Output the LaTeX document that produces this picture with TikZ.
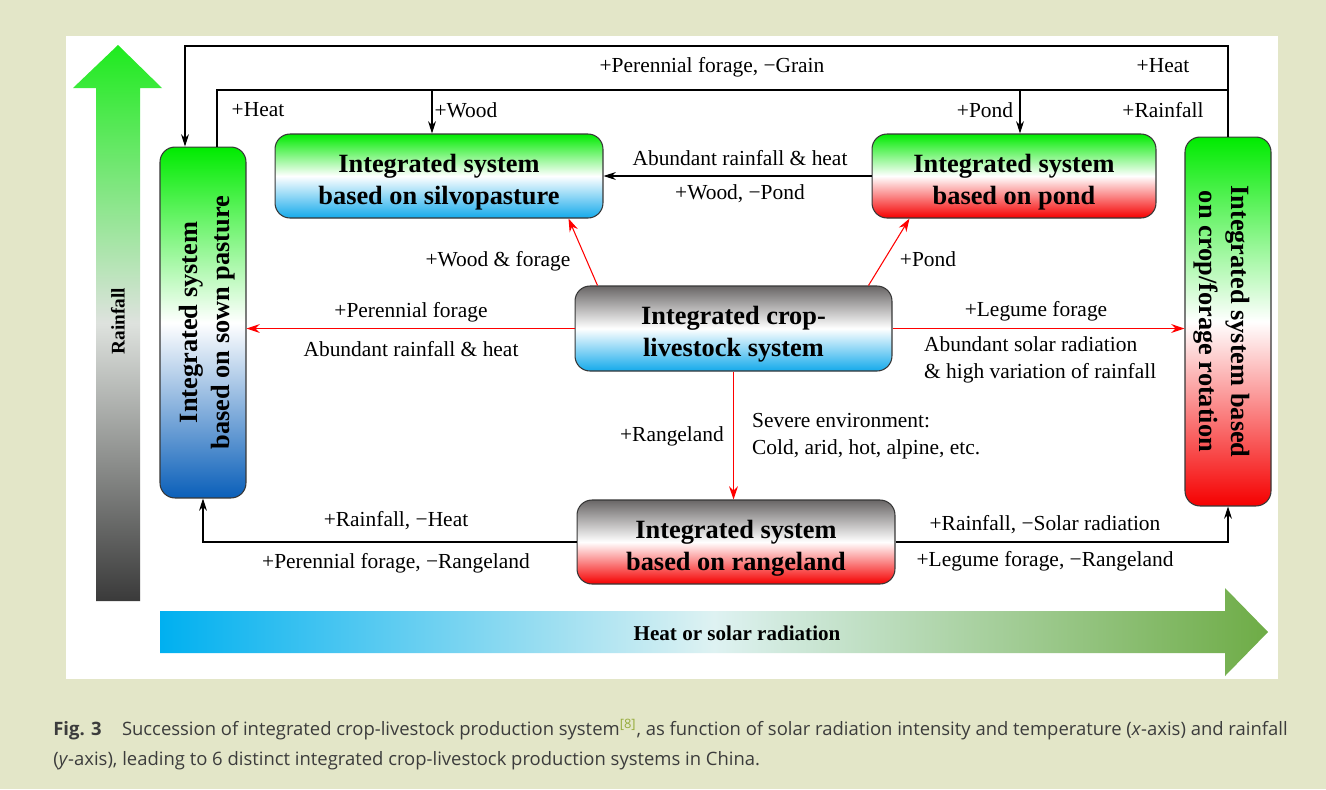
\documentclass[tikz,border=0pt]{standalone}
\usepackage{fontspec}
\setmainfont{Liberation Serif}
\newfontfamily\capfont{Open Sans}
\usepackage{graphicx}
\usepackage{xcolor}
\usetikzlibrary{arrows, arrows.meta}
\usetikzlibrary{calc}

\definecolor{bgpanel}{RGB}{227,230,200}
\definecolor{boxgreen}{RGB}{0,235,0}
\definecolor{boxcyan}{RGB}{20,170,235}
\definecolor{boxblue}{RGB}{10,95,185}
\definecolor{boxred}{RGB}{245,0,0}
\definecolor{boxgray}{RGB}{105,102,102}
\definecolor{boxline}{RGB}{55,55,55}
\definecolor{rainfallgreen}{RGB}{30,235,30}
\definecolor{rainfallmid}{RGB}{222,226,222}
\definecolor{rainfallgray}{RGB}{58,58,58}
\definecolor{heatcyan}{RGB}{0,176,240}
\definecolor{heatmid}{RGB}{222,242,242}
\definecolor{heatgreen}{RGB}{110,172,70}
\definecolor{captext}{RGB}{60,60,60}
\definecolor{refgreen}{RGB}{150,172,60}

\tikzset{
  sysbox/.style={draw=boxline, line width=0.6pt, rounded corners=0.3cm, inner sep=0pt, align=center,
    font=\fontsize{15}{18.2}\selectfont\bfseries},
  lbl/.style={inner sep=1pt, font=\fontsize{12.2}{15.4}\selectfont},
  blkarrow/.style={-{Stealth[length=7pt, width=4.5pt]}, line width=0.6pt},
  redarrow/.style={-{Stealth[length=7.5pt, width=5pt]}, red, line width=0.6pt},
}

\begin{document}
\begin{tikzpicture}[x=0.02cm, y=-0.02cm]
      \useasboundingbox (0,0) rectangle (1326,789);
      \fill[bgpanel] (0,0) rectangle (1326,789);
      \fill[white] (66,36) rectangle (1278,679);

      % axes
      \shade[top color=rainfallgreen, bottom color=rainfallgray, middle color=rainfallmid]
        (96,601) -- (96,88) -- (73,88) -- (118,45) -- (162,88) -- (140,88) -- (140,601) -- cycle;
      \node[rotate=90, font=\fontsize{11}{12}\selectfont\bfseries] (rainfall) at (118,321) {Rainfall};
      \shade[left color=heatcyan, right color=heatgreen, middle color=heatmid]
        (160,611) -- (1225,611) -- (1225,588) -- (1268,632) -- (1225,676) -- (1225,653) -- (160,653) -- cycle;
      \node[font=\fontsize{12}{13}\selectfont\bfseries] (heat) at (737,633) {Heat or solar radiation};

      % systems
      \node[sysbox, minimum width=6.56cm, minimum height=1.68cm, top color=boxgreen, bottom color=boxcyan, middle color=white] (silvo) at (439,176) {\rule{0pt}{1.15em}Integrated system\\based on silvopasture};
      \node[sysbox, minimum width=5.68cm, minimum height=1.68cm, top color=boxgreen, bottom color=boxred, middle color=white] (pond) at (1014,176) {\rule{0pt}{1.15em}Integrated system\\based on pond};
      \node[sysbox, minimum width=6.34cm, minimum height=1.70cm, top color=boxgray, bottom color=boxcyan, middle color=white] (crop) at (733.5,328.5) {\rule{0pt}{1.15em}Integrated crop-\\livestock system};
      \node[sysbox, minimum width=6.36cm, minimum height=1.68cm, top color=boxgray, bottom color=boxred, middle color=white] (range) at (736,542) {\rule{0pt}{1.15em}Integrated system\\based on rangeland};
      \node[sysbox, minimum width=1.72cm, minimum height=7.02cm, top color=boxgreen, bottom color=boxblue, middle color=white] (sown) at (203,322.5)
        {\hspace*{0.16cm}\rotatebox{90}{\begin{tabular}{@{}c@{}}Integrated system\\based on sown pasture\end{tabular}}};
      \node[sysbox, minimum width=1.72cm, minimum height=7.38cm, top color=boxgreen, bottom color=boxred, middle color=white] (rot) at (1228,321.5)
        {\rotatebox{-90}{\begin{tabular}{@{}c@{}}Integrated system based\\on crop/forage rotation\end{tabular}}\hspace*{0.24cm}};

      \coordinate (outerL) at (185,46);
      \coordinate (innerL) at (217,90);
      \coordinate (woodx) at (432,90);
      \coordinate (pondx) at (1020,90);

      % black connectors
      \draw[blkarrow] (rot.north) |- (outerL) -- (outerL |- sown.north);
      \draw[line width=0.6pt] (innerL |- sown.north) -- (innerL) -- (innerL -| rot.north);
      \draw[blkarrow] (woodx) -- (woodx |- silvo.north);
      \draw[blkarrow] (pondx) -- (pondx |- pond.north);
      \draw[blkarrow] (pond.west) -- (silvo.east);
      \draw[blkarrow] (range.west) -| (sown.south);
      \draw[blkarrow] (range.east) -| (rot.south);

      % red connectors
      \draw[redarrow] ([xshift=0.46cm]crop.north west) -- ([xshift=-0.7cm]silvo.south east);
      \draw[redarrow] ([xshift=-0.48cm]crop.north east) -- ([xshift=0.76cm]pond.south west);
      \draw[redarrow] (crop.west) -- (crop.west -| sown.east);
      \draw[redarrow] (crop.east) -- (crop.east -| rot.west);
      \draw[redarrow] (crop.south) -- (crop.south |- range.north);

      % labels
      \node[lbl] (lForageGrain) at (712,67) {+Perennial forage, −Grain};
      \node[lbl] (lHeatTop) at (1163,66) {+Heat};
      \node[lbl] (lHeatLeft) at (258,110) {+Heat};
      \node[lbl] (lWood) at (466,110) {+Wood};
      \node[lbl] (lPondTop) at (985,110) {+Pond};
      \node[lbl] (lRainTop) at (1163,110) {+Rainfall};
      \node[lbl] (lRainHeat) at (740,158) {Abundant rainfall \& heat};
      \node[lbl] (lWoodPond) at (740,194) {+Wood, −Pond};
      \node[lbl] (lWoodForage) at (498,261) {+Wood \& forage};
      \node[lbl] (lPond) at (928,259) {+Pond};
      \node[lbl] (lPerennial) at (411,312) {+Perennial forage};
      \node[lbl] (lRainHeatL) at (411,349) {Abundant rainfall \& heat};
      \node[lbl] (lLegume) at (1036,311) {+Legume forage};
      \node[lbl, anchor=west, align=left] (lSolar) at (922,360) {Abundant solar radiation\\\& high variation of rainfall};
      \node[lbl] (lRangeland) at (672,436) {+Rangeland};
      \node[lbl, anchor=west, align=left] (lSevere) at (750,436) {Severe environment:\\Cold, arid, hot, alpine, etc.};
      \node[lbl] (lRainMinusHeat) at (396,521) {+Rainfall, −Heat};
      \node[lbl] (lPerRange) at (396,563) {+Perennial forage, −Rangeland};
      \node[lbl] (lRainSolar) at (1045,525) {+Rainfall, −Solar radiation};
      \node[lbl] (lLegRange) at (1045,561) {+Legume forage, −Rangeland};

      % caption
      \node[anchor=north west, align=left, inner sep=0pt, text=captext, font=\capfont\fontsize{10.5}{17}\selectfont] (caption) at (53,719)
        {\textbf{Fig. 3}\hspace{1.1em}Succession of integrated crop-livestock production system\textsuperscript{\textcolor{refgreen}{[8]}}, as function of solar radiation intensity and temperature (\textit{x}-axis) and rainfall\\(\textit{y}-axis), leading to 6 distinct integrated crop-livestock production systems in China.};
\end{tikzpicture}
\end{document}
